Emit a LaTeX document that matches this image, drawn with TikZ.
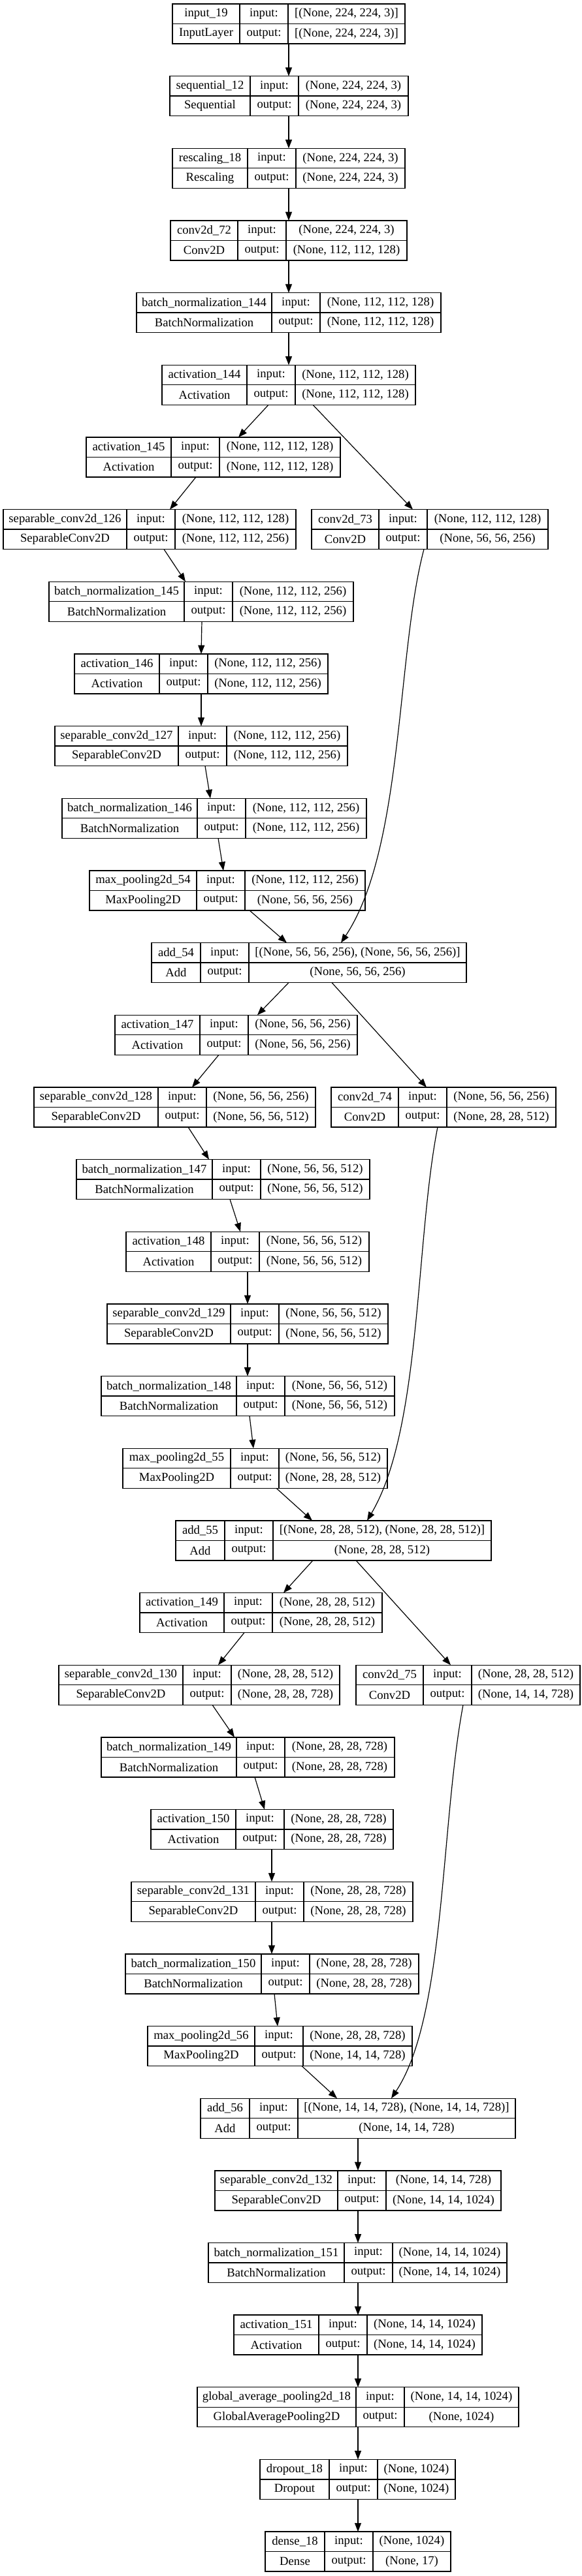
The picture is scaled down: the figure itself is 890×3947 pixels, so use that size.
\documentclass[tikz,border=0pt]{standalone}
\usepackage{fontspec}
\setmainfont{Liberation Serif}
\usepackage{tikz}
\usetikzlibrary{arrows.meta, fit}

% one keras layer record: name, row, left x, first divider x, right x,
% layer name, class, input shape, output shape
\newcommand{\lyr}[9]{%
  \pgfmathsetmacro{\lyrtop}{6+110.66*#2}%
  \pgfmathsetmacro{\lyrbot}{\lyrtop+61}%
  \pgfmathsetmacro{\lyrmid}{\lyrtop+30.5}%
  \pgfmathsetmacro{\lyrdiv}{#4+74}%
  \coordinate (#1-nw) at (#3,\lyrtop);
  \coordinate (#1-se) at (#5,\lyrbot);
  \node[layerbox, fit=(#1-nw)(#1-se)] (#1) {};
  \draw[line width=1pt] (#3,\lyrmid) -- (#5,\lyrmid)
    (#4,\lyrtop) -- (#4,\lyrbot)
    (\lyrdiv,\lyrtop) -- (\lyrdiv,\lyrbot);
  \node[cell] (#1-name) at ({(#3+#4)/2},{\lyrtop+15.25}) {#6};
  \node[cell] (#1-class) at ({(#3+#4)/2},{\lyrtop+45.75}) {#7};
  \node[cell] (#1-in) at ({(#4+\lyrdiv)/2},{\lyrtop+15.25}) {input:};
  \node[cell] (#1-out) at ({(#4+\lyrdiv)/2},{\lyrtop+45.75}) {output:};
  \node[cell] (#1-inshape) at ({(\lyrdiv+#5)/2},{\lyrtop+15.25}) {#8};
  \node[cell] (#1-outshape) at ({(\lyrdiv+#5)/2},{\lyrtop+45.75}) {#9};
}

\begin{document}
\begin{tikzpicture}[x=0.75pt, y=-0.75pt,
    layerbox/.style={draw, line width=1pt, inner sep=0pt, outer sep=0pt},
    cell/.style={font=\fontsize{14}{16}\selectfont, inner sep=0pt},
    >={Triangle[length=10pt, width=7.5pt]}]
    \useasboundingbox (0,0) rectangle (890,3947);

    \lyr{in19}{0}{264}{367}{620}{input\_19}{InputLayer}{[(None, 224, 224, 3)]}{[(None, 224, 224, 3)]}
    \lyr{seq12}{1}{260}{383}{625}{sequential\_12}{Sequential}{(None, 224, 224, 3)}{(None, 224, 224, 3)}
    \lyr{resc18}{2}{264}{379}{620}{rescaling\_18}{Rescaling}{(None, 224, 224, 3)}{(None, 224, 224, 3)}
    \lyr{conv72}{3}{261}{364}{623}{conv2d\_72}{Conv2D}{(None, 224, 224, 3)}{(None, 112, 112, 128)}
    \lyr{bn144}{4}{209}{416}{675}{batch\_normalization\_144}{BatchNormalization}{(None, 112, 112, 128)}{(None, 112, 112, 128)}
    \lyr{act144}{5}{248}{378}{636}{activation\_144}{Activation}{(None, 112, 112, 128)}{(None, 112, 112, 128)}
    \lyr{act145}{6}{132}{262}{521}{activation\_145}{Activation}{(None, 112, 112, 128)}{(None, 112, 112, 128)}
    \lyr{sep126}{7}{5}{194}{453}{separable\_conv2d\_126}{SeparableConv2D}{(None, 112, 112, 128)}{(None, 112, 112, 256)}
    \lyr{conv73}{7}{477}{580}{839}{conv2d\_73}{Conv2D}{(None, 112, 112, 128)}{(None, 56, 56, 256)}
    \lyr{bn145}{8}{75}{282}{541}{batch\_normalization\_145}{BatchNormalization}{(None, 112, 112, 256)}{(None, 112, 112, 256)}
    \lyr{act146}{9}{114}{244}{502}{activation\_146}{Activation}{(None, 112, 112, 256)}{(None, 112, 112, 256)}
    \lyr{sep127}{10}{84}{273}{532}{separable\_conv2d\_127}{SeparableConv2D}{(None, 112, 112, 256)}{(None, 112, 112, 256)}
    \lyr{bn146}{11}{95}{302}{561}{batch\_normalization\_146}{BatchNormalization}{(None, 112, 112, 256)}{(None, 112, 112, 256)}
    \lyr{mp54}{12}{137}{301}{559}{max\_pooling2d\_54}{MaxPooling2D}{(None, 112, 112, 256)}{(None, 56, 56, 256)}
    \lyr{add54}{13}{232}{307}{714}{add\_54}{Add}{[(None, 56, 56, 256), (None, 56, 56, 256)]}{(None, 56, 56, 256)}
    \lyr{act147}{14}{176}{306}{547}{activation\_147}{Activation}{(None, 56, 56, 256)}{(None, 56, 56, 256)}
    \lyr{sep128}{15}{52}{242}{483}{separable\_conv2d\_128}{SeparableConv2D}{(None, 56, 56, 256)}{(None, 56, 56, 512)}
    \lyr{conv74}{15}{507}{610}{851}{conv2d\_74}{Conv2D}{(None, 56, 56, 256)}{(None, 28, 28, 512)}
    \lyr{bn147}{16}{117}{325}{566}{batch\_normalization\_147}{BatchNormalization}{(None, 56, 56, 512)}{(None, 56, 56, 512)}
    \lyr{act148}{17}{193}{323}{565}{activation\_148}{Activation}{(None, 56, 56, 512)}{(None, 56, 56, 512)}
    \lyr{sep129}{18}{164}{353}{594}{separable\_conv2d\_129}{SeparableConv2D}{(None, 56, 56, 512)}{(None, 56, 56, 512)}
    \lyr{bn148}{19}{155}{362}{604}{batch\_normalization\_148}{BatchNormalization}{(None, 56, 56, 512)}{(None, 56, 56, 512)}
    \lyr{mp55}{20}{188}{353}{593}{max\_pooling2d\_55}{MaxPooling2D}{(None, 56, 56, 512)}{(None, 28, 28, 512)}
    \lyr{add55}{21}{269}{344}{752}{add\_55}{Add}{[(None, 28, 28, 512), (None, 28, 28, 512)]}{(None, 28, 28, 512)}
    \lyr{act149}{22}{214}{343}{585}{activation\_149}{Activation}{(None, 28, 28, 512)}{(None, 28, 28, 512)}
    \lyr{sep130}{23}{90}{280}{520}{separable\_conv2d\_130}{SeparableConv2D}{(None, 28, 28, 512)}{(None, 28, 28, 728)}
    \lyr{conv75}{23}{545}{648}{888}{conv2d\_75}{Conv2D}{(None, 28, 28, 512)}{(None, 14, 14, 728)}
    \lyr{bn149}{24}{155}{362}{604}{batch\_normalization\_149}{BatchNormalization}{(None, 28, 28, 728)}{(None, 28, 28, 728)}
    \lyr{act150}{25}{231}{361}{602}{activation\_150}{Activation}{(None, 28, 28, 728)}{(None, 28, 28, 728)}
    \lyr{sep131}{26}{201}{391}{632}{separable\_conv2d\_131}{SeparableConv2D}{(None, 28, 28, 728)}{(None, 28, 28, 728)}
    \lyr{bn150}{27}{192}{400}{641}{batch\_normalization\_150}{BatchNormalization}{(None, 28, 28, 728)}{(None, 28, 28, 728)}
    \lyr{mp56}{28}{226}{390}{631}{max\_pooling2d\_56}{MaxPooling2D}{(None, 28, 28, 728)}{(None, 14, 14, 728)}
    \lyr{add56}{29}{307}{382}{789}{add\_56}{Add}{[(None, 14, 14, 728), (None, 14, 14, 728)]}{(None, 14, 14, 728)}
    \lyr{sep132}{30}{329}{517}{767}{separable\_conv2d\_132}{SeparableConv2D}{(None, 14, 14, 728)}{(None, 14, 14, 1024)}
    \lyr{bn151}{31}{319}{527}{776}{batch\_normalization\_151}{BatchNormalization}{(None, 14, 14, 1024)}{(None, 14, 14, 1024)}
    \lyr{act151}{32}{358}{488}{738}{activation\_151}{Activation}{(None, 14, 14, 1024)}{(None, 14, 14, 1024)}
    \lyr{gap18}{33}{302}{545}{794}{global\_average\_pooling2d\_18}{GlobalAveragePooling2D}{(None, 14, 14, 1024)}{(None, 1024)}
    \lyr{drop18}{34}{398}{504}{697}{dropout\_18}{Dropout}{(None, 1024)}{(None, 1024)}
    \lyr{dense18}{35}{406}{497}{690}{dense\_18}{Dense}{(None, 1024)}{(None, 17)}

    % straight connectors
    \draw[line width=0.9pt]
    (in19.south -| 442,0) edge[->] (seq12.north -| 442,0)
    (seq12.south -| 442,0) edge[->] (resc18.north -| 442,0)
    (resc18.south -| 442,0) edge[->] (conv72.north -| 442,0)
    (conv72.south -| 442,0) edge[->] (bn144.north -| 442,0)
    (bn144.south -| 442,0) edge[->] (act144.north -| 442,0)
    (act144.south -| 411,0) edge[->] (act145.north -| 365,0)
    (act144.south -| 479,0) edge[->] (conv73.north -| 632,0)
    (act145.south -| 300,0) edge[->] (sep126.north -| 260,0)
    (sep126.south -| 251,0) edge[->] (bn145.north -| 284,0)
    (bn145.south -| 309,0) edge[->] (act146.north -| 308,0)
    (act146.south -| 308,0) edge[->] (sep127.north -| 308,0)
    (sep127.south -| 314,0) edge[->] (bn146.north -| 322,0)
    (bn146.south -| 334,0) edge[->] (mp54.north -| 342,0)
    (mp54.south -| 382,0) edge[->] (add54.north -| 439,0)
    (add54.south -| 442,0) edge[->] (act147.north -| 394,0)
    (add54.south -| 508,0) edge[->] (conv74.north -| 653,0)
    (act147.south -| 335,0) edge[->] (sep128.north -| 294,0)
    (sep128.south -| 288,0) edge[->] (bn147.north -| 320,0)
    (bn147.south -| 352,0) edge[->] (act148.north -| 368,0)
    (act148.south -| 379,0) edge[->] (sep129.north -| 379,0)
    (sep129.south -| 379,0) edge[->] (bn148.north -| 379,0)
    (bn148.south -| 382,0) edge[->] (mp55.north -| 388,0)
    (mp55.south -| 423,0) edge[->] (add55.north -| 478,0)
    (add55.south -| 479,0) edge[->] (act149.north -| 434,0)
    (add55.south -| 545,0) edge[->] (conv75.north -| 690,0)
    (act149.south -| 374,0) edge[->] (sep130.north -| 334,0)
    (sep130.south -| 325,0) edge[->] (bn149.north -| 359,0)
    (bn149.south -| 390,0) edge[->] (act150.north -| 405,0)
    (act150.south -| 416,0) edge[->] (sep131.north -| 416,0)
    (sep131.south -| 416,0) edge[->] (bn150.north -| 416,0)
    (bn150.south -| 420,0) edge[->] (mp56.north -| 425,0)
    (mp56.south -| 462,0) edge[->] (add56.north -| 516,0)
    (add56.south -| 548,0) edge[->] (sep132.north -| 548,0)
    (sep132.south -| 548,0) edge[->] (bn151.north -| 548,0)
    (bn151.south -| 548,0) edge[->] (act151.north -| 548,0)
    (act151.south -| 548,0) edge[->] (gap18.north -| 548,0)
    (gap18.south -| 548,0) edge[->] (drop18.north -| 548,0)
    (drop18.south -| 548,0) edge[->] (dense18.north -| 548,0);

    % shortcut branches
    \draw[->, line width=0.9pt] (conv73.south -| 649,0) .. controls (607,1000) and (618,1300) .. (add54.north -| 522,0);
    \draw[->, line width=0.9pt] (conv74.south -| 670,0) .. controls (636,1900) and (645,2190) .. (add55.north -| 562,0);
    \draw[->, line width=0.9pt] (conv75.south -| 709,0) .. controls (674,2800) and (682,3090) .. (add56.north -| 599,0);
\end{tikzpicture}
\end{document}
